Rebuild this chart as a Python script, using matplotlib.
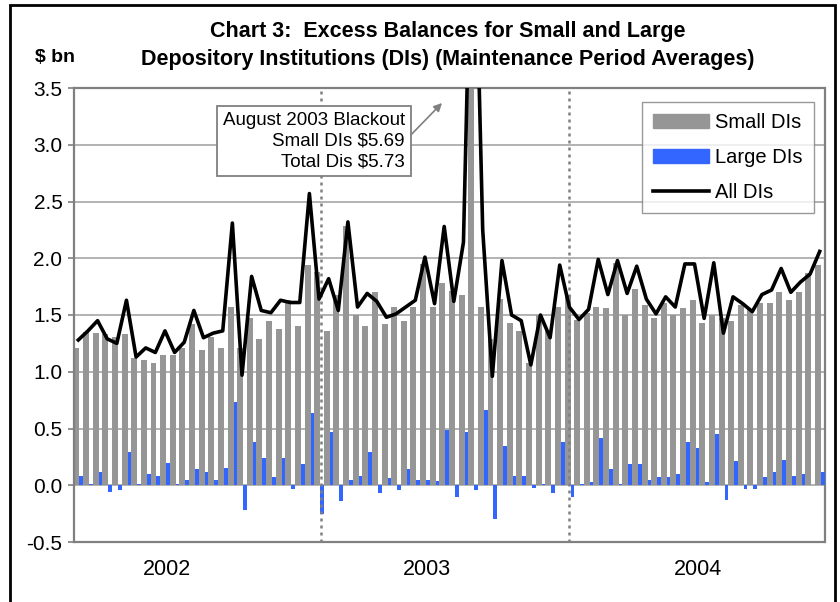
import numpy as np
import matplotlib
matplotlib.use('Agg')
from matplotlib import pyplot as plt
from matplotlib.patches import Rectangle, Patch
from matplotlib.lines import Line2D

# Excess balances, $ bn, maintenance period averages (26 periods per year, 2002-2004)
small_dis = [1.21, 1.35, 1.34, 1.33, 1.31, 1.33, 1.12, 1.10, 1.08, 1.15, 1.15, 1.21, 1.42,
             1.19, 1.31, 1.21, 1.57, 1.21, 1.47, 1.29, 1.45, 1.38, 1.63, 1.40, 1.94, 1.88,
             1.36, 1.68, 2.28, 1.50, 1.40, 1.70, 1.42, 1.57, 1.45, 1.57, 1.95, 1.57, 1.78,
             1.71, 1.68, 5.69, 1.57, 1.29, 1.64, 1.43, 1.36, 1.08, 1.50, 1.36, 1.57, 1.68,
             1.46, 1.52, 1.57, 1.56, 1.96, 1.50, 1.73, 1.59, 1.47, 1.61, 1.50, 1.56, 1.63,
             1.43, 1.50, 1.47, 1.45, 1.59, 1.55, 1.61, 1.61, 1.70, 1.63, 1.70, 1.87, 1.94]
large_dis = [0.08, 0.01, 0.12, -0.06, -0.04, 0.29, 0.01, 0.10, 0.08, 0.20, 0.01, 0.05, 0.14,
             0.12, 0.05, 0.15, 0.73, -0.22, 0.38, 0.24, 0.07, 0.24, -0.03, 0.19, 0.64, -0.25,
             0.47, -0.14, 0.05, 0.08, 0.29, -0.07, 0.06, -0.04, 0.14, 0.05, 0.05, 0.04, 0.49,
             -0.10, 0.47, -0.04, 0.66, -0.30, 0.35, 0.08, 0.08, -0.02, 0.01, -0.07, 0.38, -0.10,
             0.01, 0.03, 0.42, 0.14, 0.01, 0.19, 0.19, 0.05, 0.07, 0.07, 0.10, 0.38, 0.33,
             0.03, 0.45, -0.13, 0.21, -0.03, -0.03, 0.07, 0.12, 0.22, 0.08, 0.10, 0.00, 0.12]
all_dis = [1.28, 1.36, 1.45, 1.29, 1.25, 1.63, 1.13, 1.21, 1.17, 1.36, 1.17, 1.26, 1.54,
           1.30, 1.34, 1.36, 2.31, 0.97, 1.84, 1.54, 1.52, 1.63, 1.61, 1.61, 2.57, 1.64,
           1.82, 1.54, 2.32, 1.57, 1.69, 1.62, 1.48, 1.51, 1.57, 1.63, 2.01, 1.60, 2.28,
           1.62, 2.14, 5.73, 2.25, 0.96, 1.98, 1.50, 1.45, 1.06, 1.50, 1.30, 1.94, 1.57,
           1.46, 1.55, 1.99, 1.68, 1.98, 1.69, 1.93, 1.64, 1.51, 1.66, 1.57, 1.95, 1.95,
           1.47, 1.96, 1.34, 1.66, 1.60, 1.53, 1.68, 1.72, 1.91, 1.70, 1.79, 1.86, 2.06]

years = ['2002', '2003', '2004']
year_pos = [9.25, 36.2, 64.4]
year_breaks = [25.2, 51.0]
y_ticks = [-0.5, 0.0, 0.5, 1.0, 1.5, 2.0, 2.5, 3.0, 3.5]

plt.rcParams['font.family'] = ['Liberation Sans', 'DejaVu Sans']
plt.rcParams['axes.unicode_minus'] = False

fig = plt.figure(figsize=(8.4, 6.02), dpi=100)
ax = fig.add_axes([73.5 / 840, 60 / 602, 751 / 840, 454 / 602])

x = np.arange(len(small_dis))
ax.bar(x - 0.5, small_dis, width=0.62, align='edge', color='#969696', zorder=2)
ax.bar(x + 0.12, large_dis, width=0.38, align='edge', color='#3366ff', zorder=3)
for b in year_breaks:
    ax.axvline(b, color='#808080', lw=1.8, ls=(0, (1.2, 1.6)), zorder=3.5)
ax.plot(x, all_dis, color='black', lw=2.6, zorder=4, solid_joinstyle='round')

ax.set_xlim(-0.5, len(small_dis) - 0.5)
ax.set_ylim(-0.5, 3.5)
ax.set_yticks(y_ticks)
ax.set_yticklabels(['%.1f' % v for v in y_ticks])
ax.yaxis.grid(True, color='#a6a6a6', lw=1.2)
ax.set_axisbelow(True)
ax.set_xticks(year_pos)
ax.set_xticklabels(years)
ax.tick_params(axis='x', length=0, pad=12, labelsize=15.5)
ax.tick_params(axis='y', length=4.5, width=1.2, color='#808080', pad=3.5, labelsize=15)
for s in ax.spines.values():
    s.set_color('#808080')
    s.set_linewidth(1.6)

# legend
handles = [Patch(color='#969696'), Patch(color='#3366ff'), Line2D([], [], color='black', lw=2.6)]
leg = ax.legend(handles, ['Small DIs', 'Large DIs', 'All DIs'], loc='upper right',
                bbox_to_anchor=(0.986, 0.969), borderaxespad=0, fontsize=14.5,
                fancybox=False, edgecolor='#808080', borderpad=0.55, handlelength=2.8,
                handletextpad=0.3, labelspacing=0.8)
leg.get_frame().set_linewidth(1.0)

# blackout note
ax.annotate('August 2003 Blackout\nSmall DIs \\$5.69\nTotal Dis \\$5.73',
            xy=(0.4907, 0.967), xycoords='axes fraction',
            xytext=(0.4414, 0.8833), textcoords='axes fraction',
            ha='right', va='center', multialignment='right', fontsize=13.5, linespacing=1.3,
            bbox=dict(boxstyle='square,pad=0.3', fc='white', ec='#808080', lw=1.3),
            arrowprops=dict(arrowstyle='-|>', color='#808080', lw=1.2, relpos=(1, 0.5),
                            shrinkA=0, shrinkB=0, mutation_scale=12),
            zorder=6)

fig.text(448 / 840, 1 - 32 / 602, 'Chart 3:  Excess Balances for Small and Large',
         ha='center', va='center', fontsize=15.5, weight='bold')
fig.text(448 / 840, 1 - 60 / 602, 'Depository Institutions (DIs) (Maintenance Period Averages)',
         ha='center', va='center', fontsize=15.5, weight='bold')
fig.text(35 / 840, 1 - 57 / 602, r'\$ bn', ha='left', va='center', fontsize=14, weight='bold')

# outer chart border
fig.patches.append(Rectangle((10 / 840, -0.02), 825 / 840, 597 / 602 + 0.02,
                             transform=fig.transFigure, fill=False, ec='black', lw=2))

fig.savefig('out.png', dpi=100)
